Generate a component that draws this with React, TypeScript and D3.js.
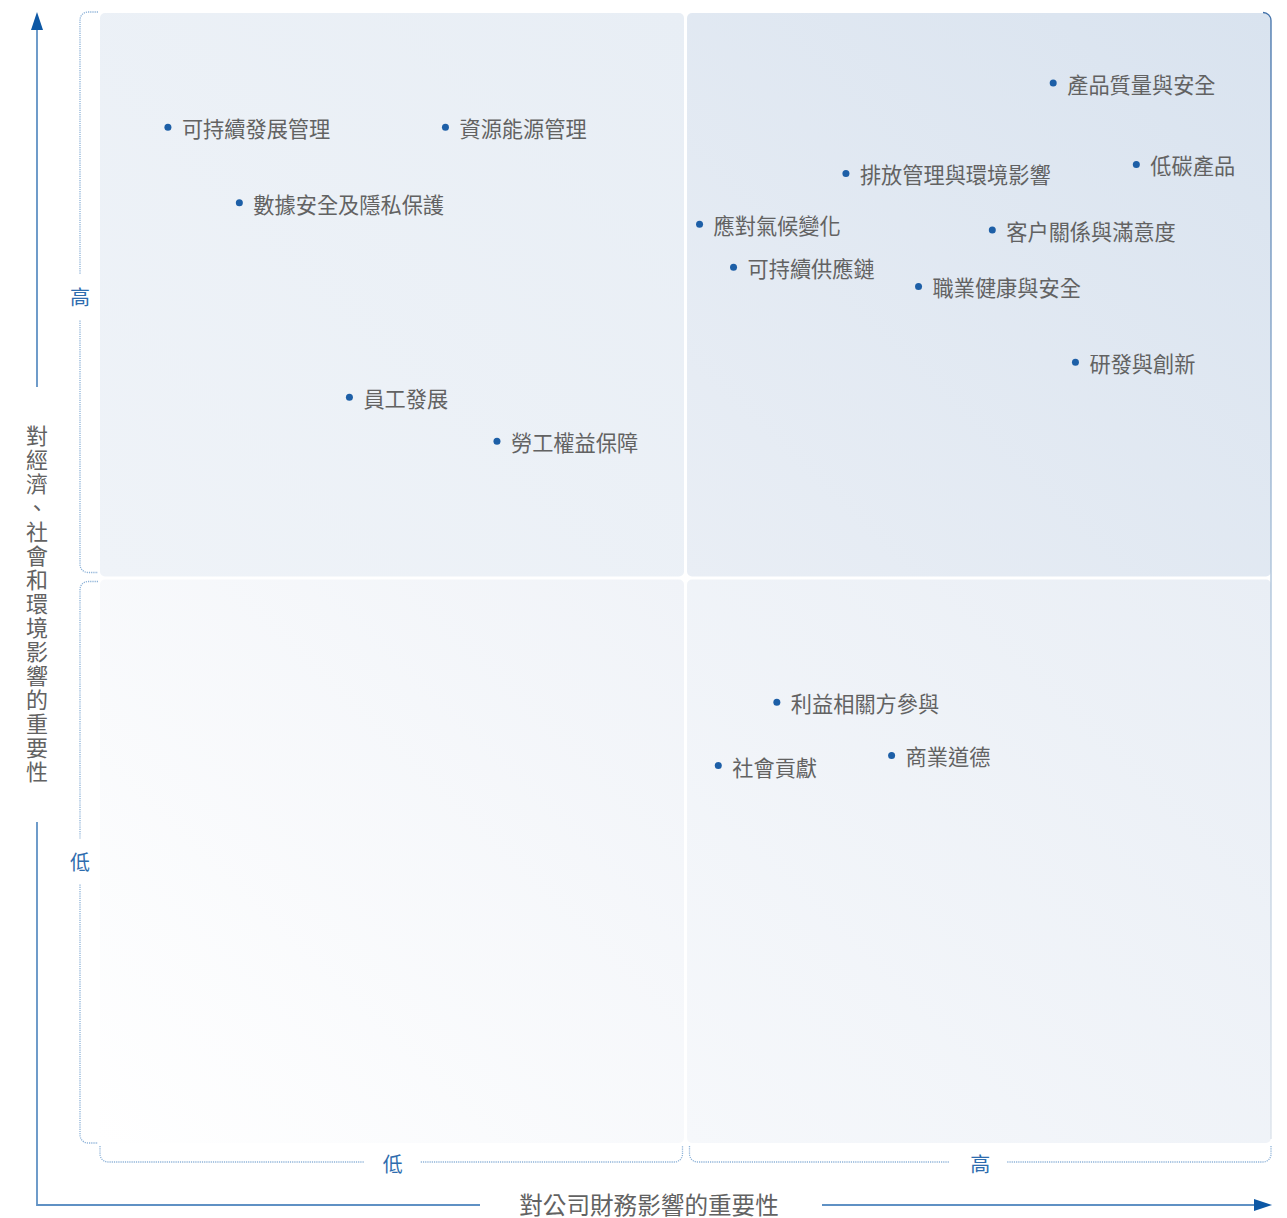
import * as d3 from "d3";

// materiality topics (0-10 on both axes, 5 = quadrant split)
const topics = [
  "產品質量與安全",
  "可持續發展管理",
  "資源能源管理",
  "排放管理與環境影響",
  "低碳產品",
  "數據安全及隱私保護",
  "應對氣候變化",
  "客户關係與滿意度",
  "可持續供應鏈",
  "職業健康與安全",
  "研發與創新",
  "員工發展",
  "勞工權益保障",
  "利益相關方參與",
  "社會貢獻",
  "商業道德",
];
const financialImpact = [8.14, 0.58, 2.95, 6.37, 8.85, 1.19, 5.12, 7.62, 5.41, 6.99, 8.33, 2.13, 3.39, 5.78, 5.28, 6.76];
const stakeholderImpact = [9.38, 8.99, 8.99, 8.58, 8.66, 8.32, 8.13, 8.08, 7.75, 7.58, 6.91, 6.6, 6.21, 3.9, 3.34, 3.43];

const levelLabels = ["低", "高"];
const xTitle = "對公司財務影響的重要性";
const yTitle = "對經濟、社會和環境影響的重要性";

const W = 1287;
const H = 1218;
const plot = { left: 100, right: 1271, top: 13, bottom: 1143 };
const FONT = "'Noto Sans CJK TC', 'Noto Sans', sans-serif";
const BLUE = "#1d5fa7";
const LABEL_BLUE = "#2e6cae";
const GREY = "#626262";
const DOTTED = "#8db2d8";

const x = d3.scaleLinear().domain([0, 10]).range([plot.left, plot.right]);
const y = d3.scaleLinear().domain([0, 10]).range([plot.bottom, plot.top]);

const gap = 1.5;
const r = 8;

// gradient stops per quadrant (bottom-left -> top-right)
const quadrants = [
  { id: "q-tl", x0: 0, x1: 5, y0: 5, y1: 10, from: "#eff3f8", to: "#e8eef5" },
  { id: "q-tr", x0: 5, x1: 10, y0: 5, y1: 10, from: "#e9eef5", to: "#d9e3ef" },
  { id: "q-bl", x0: 0, x1: 5, y0: 0, y1: 5, from: "#ffffff", to: "#f0f3f8" },
  { id: "q-br", x0: 5, x1: 10, y0: 0, y1: 5, from: "#f6f8fb", to: "#e9eef5" },
];

export default function App() {
  const midX = x(5);
  const midY = y(5);
  const bx = 80; // y bracket
  const by = 1162; // x bracket

  // vertical brackets (high on top, low below)
  const yHighC = (y(10) + midY) / 2;
  const yLowC = (midY + y(0)) / 2;
  const yBrackets = [
    `M${plot.left - 2},${plot.top - 1} H${bx + r} A${r},${r} 0 0 0 ${bx},${plot.top - 1 + r} V${yHighC - 21}`,
    `M${bx},${yHighC + 25} V${midY - gap - 4 - r} A${r},${r} 0 0 0 ${bx + r},${midY - gap - 4} H${plot.left - 2}`,
    `M${plot.left - 2},${midY + gap + 2} H${bx + r} A${r},${r} 0 0 0 ${bx},${midY + gap + 2 + r} V${yLowC - 22}`,
    `M${bx},${yLowC + 24} V${plot.bottom - r} A${r},${r} 0 0 0 ${bx + r},${plot.bottom} H${plot.left - 2}`,
  ];
  const xLowC = (x(0) + midX) / 2;
  const xHighC = (midX + x(10)) / 2;
  const top = plot.bottom + 3;
  const xBrackets = [
    `M${plot.left},${top} V${by - r} A${r},${r} 0 0 0 ${plot.left + r},${by} H${xLowC - 29}`,
    `M${xLowC + 28},${by} H${midX - 3 - r} A${r},${r} 0 0 0 ${midX - 3},${by - r} V${top}`,
    `M${midX + 4},${top} V${by - r} A${r},${r} 0 0 0 ${midX + 4 + r},${by} H${xHighC - 29}`,
    `M${xHighC + 29},${by} H${plot.right - r} A${r},${r} 0 0 0 ${plot.right},${by - r} V${top}`,
  ];

  const ax = 37;
  const ay = 1205;

  return (
    <svg
      width={W}
      height={H}
      style={{ position: "absolute", left: 0, top: 0, fontFamily: FONT }}
    >
      <defs>
        {quadrants.map((q) => (
          <linearGradient key={q.id} id={q.id} x1="0" y1="1" x2="1" y2="0">
            <stop offset="0" stopColor={q.from} />
            <stop offset="1" stopColor={q.to} />
          </linearGradient>
        ))}
        <linearGradient id="edge-top" x1="0" y1="0" x2="1" y2="0">
          <stop offset="0" stopColor="#e2e9f1" />
          <stop offset="0.5" stopColor="#a9c0d8" />
          <stop offset="1" stopColor="#3f6fa8" />
        </linearGradient>
        <linearGradient id="edge-right" x1="0" y1="0" x2="0" y2="1">
          <stop offset="0" stopColor="#3f6fa8" />
          <stop offset="0.5" stopColor="#a9c0d8" />
          <stop offset="1" stopColor="#dbe2ea" />
        </linearGradient>
      </defs>

      {/* quadrants */}
      {quadrants.map((q) => {
        const left = x(q.x0) + (q.x0 === 5 ? gap : 0);
        const right = x(q.x1) - (q.x1 === 5 ? gap : 0);
        const t = y(q.y1) + (q.y1 === 5 ? gap : 0);
        const b = y(q.y0) - (q.y0 === 5 ? gap : 0);
        return (
          <rect
            key={q.id}
            x={left}
            y={t}
            width={right - left}
            height={b - t}
            rx={5}
            fill={`url(#${q.id})`}
          />
        );
      })}

      {/* outer frame, top and right edges */}
      <path
        d={`M${plot.left},${plot.top - 0.5} H${plot.right - 8}`}
        fill="none"
        stroke="url(#edge-top)"
        strokeWidth={1.3}
      />
      <path
        d={`M${plot.right - 8},${plot.top - 0.5} A8,8 0 0 1 ${plot.right},${plot.top + 7.5} V${plot.bottom - 4}`}
        fill="none"
        stroke="url(#edge-right)"
        strokeWidth={1.3}
      />

      {/* level brackets */}
      {[...yBrackets, ...xBrackets].map((d, i) => (
        <path key={i} d={d} fill="none" stroke={DOTTED} strokeWidth={1.3} strokeDasharray="1.2 1" />
      ))}
      <text x={bx} y={yHighC + 1} textAnchor="middle" dominantBaseline="central" fontSize={20} fill={LABEL_BLUE}>
        {levelLabels[1]}
      </text>
      <text x={bx} y={yLowC + 1} textAnchor="middle" dominantBaseline="central" fontSize={20} fill={LABEL_BLUE}>
        {levelLabels[0]}
      </text>
      <text x={xLowC} y={by + 1} textAnchor="middle" dominantBaseline="central" fontSize={20} fill={LABEL_BLUE}>
        {levelLabels[0]}
      </text>
      <text x={xHighC + 2} y={by + 1} textAnchor="middle" dominantBaseline="central" fontSize={20} fill={LABEL_BLUE}>
        {levelLabels[1]}
      </text>

      {/* axes with arrows */}
      <g stroke="#5f91c4" strokeWidth={1.8}>
        <line x1={ax} x2={ax} y1={26} y2={387} />
        <line x1={ax} x2={ax} y1={822} y2={ay + 1} />
        <line x1={ax} x2={480} y1={ay} y2={ay} />
        <line x1={822} x2={1258} y1={ay} y2={ay} />
      </g>
      <path d={`M${ax},12 L${ax + 6},30 L${ax - 6},30 Z`} fill="#0d58a5" />
      <path d={`M1272,${ay} L1254,${ay - 6} L1254,${ay + 6} Z`} fill="#0d58a5" />

      <text x={649} y={ay - 1} textAnchor="middle" dominantBaseline="central" fontSize={23.6} fill={GREY}>
        {xTitle}
      </text>
      <text
        x={ax}
        y={425}
        fontSize={22}
        fill={GREY}
        letterSpacing={2}
        style={{ writingMode: "vertical-rl" }}
      >
        {yTitle}
      </text>

      {/* topics */}
      {topics.map((t, i) => (
        <g key={t} transform={`translate(${x(financialImpact[i])},${y(stakeholderImpact[i])})`}>
          <circle r={3.5} fill={BLUE} />
          <text x={14} y={0.5} dominantBaseline="central" fontSize={21.2} fill={GREY}>
            {t}
          </text>
        </g>
      ))}
    </svg>
  );
}
